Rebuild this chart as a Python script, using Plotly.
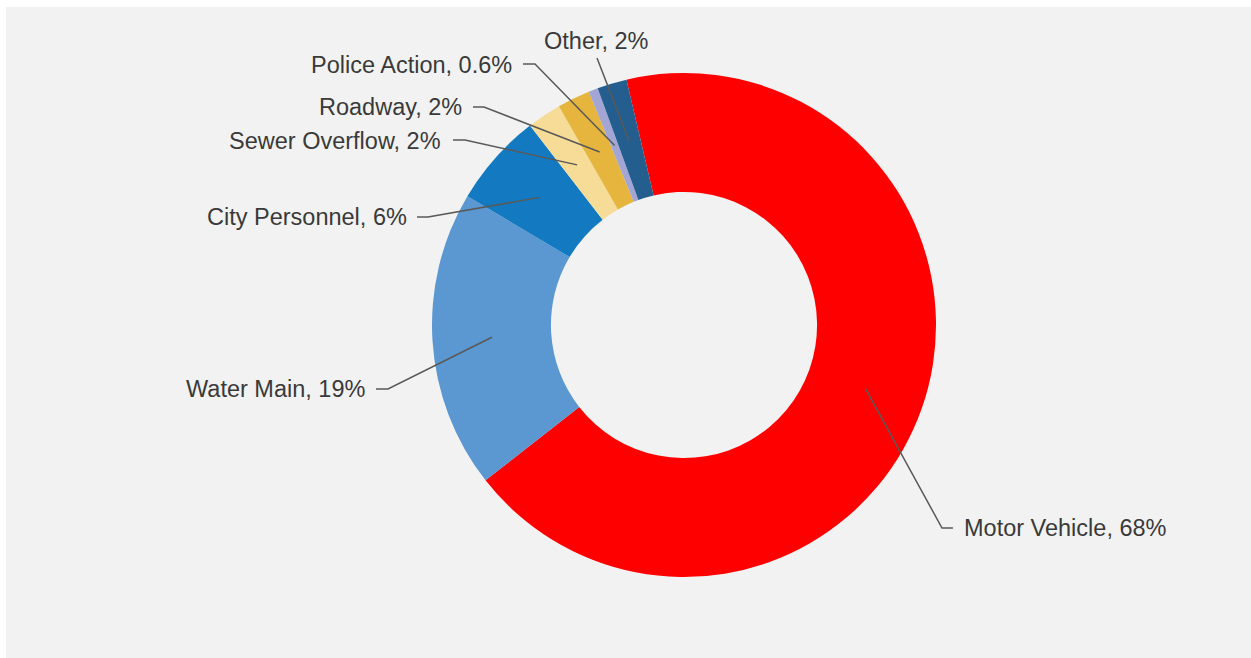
import math
import plotly.graph_objects as go

# ---- data ----
categories = ["Motor Vehicle", "Water Main", "City Personnel", "Sewer Overflow",
              "Roadway", "Police Action", "Other"]
values = [68.1, 19.1, 6.0, 2.2, 2.1, 0.6, 1.9]
pct_labels = ["68%", "19%", "6%", "2%", "2%", "0.6%", "2%"]
colors = ["#FF0000", "#5B97D1", "#137AC1", "#F7DC97", "#E5B53D", "#A3A6D4", "#245E8F"]

# ---- layout constants (pixels) ----
W, H = 1251, 658
CX, CY, R_OUT = 684, 325, 252
HOLE = 0.528
ROTATION = -13.2
R_MID = R_OUT * (1 + HOLE) / 2

# label placement: (elbow x, elbow y, horizontal end x, text x, text y, anchor)
label_layout = [
    (942, 528, 953, 962, 528, "left"),
    (388, 389, 376, 367, 389, "right"),
    (428, 217, 417, 409, 217, "right"),
    (465, 140, 453, 443, 141, "right"),
    (484, 107, 473, 464, 107, "right"),
    (535, 64, 523, 514, 65, "right"),
    (597, 58, None, 596, 41, "center"),
]

FONT = dict(family="Arial, Liberation Sans, sans-serif", size=23.5, color="#3A3A3A")
LINE_COLOR = "#595959"


def px(x):
    return x / W


def py(y):
    return 1 - y / H


fig = go.Figure()
fig.add_trace(go.Pie(
    labels=categories,
    values=values,
    hole=HOLE,
    sort=False,
    direction="clockwise",
    rotation=ROTATION,
    marker=dict(colors=colors, line=dict(width=0)),
    textinfo="none",
    hoverinfo="label+percent",
    showlegend=False,
    domain=dict(x=[px(CX - R_OUT), px(CX + R_OUT)],
                y=[py(CY + R_OUT), py(CY - R_OUT)]),
))

shapes = [dict(type="rect", xref="paper", yref="paper",
               x0=px(6), x1=1, y0=0, y1=py(7),
               fillcolor="#F2F2F2", line=dict(width=0), layer="below")]
annotations = []

total = sum(values)
cum = 0.0
for cat, v, lab, lay in zip(categories, values, pct_labels, label_layout):
    mid = ROTATION + 360 * (cum + v / 2) / total
    cum += v
    a = math.radians(mid)
    sx = CX + R_MID * math.sin(a)
    sy = CY - R_MID * math.cos(a)
    ex, ey, hx, tx, ty, anchor = lay
    path = f"M {px(sx)} {py(sy)} L {px(ex)} {py(ey)}"
    if hx is not None:
        path += f" L {px(hx)} {py(ey)}"
    shapes.append(dict(type="path", xref="paper", yref="paper", path=path,
                       line=dict(color=LINE_COLOR, width=1.5), layer="above"))
    annotations.append(dict(xref="paper", yref="paper", x=px(tx), y=py(ty),
                            xanchor=anchor, yanchor="middle", showarrow=False,
                            text=f"{cat}, {lab}", font=FONT))

fig.update_layout(
    width=W, height=H,
    margin=dict(l=0, r=0, t=0, b=0),
    paper_bgcolor="#FFFFFF",
    plot_bgcolor="#FFFFFF",
    shapes=shapes,
    annotations=annotations,
)

fig.write_html("out.html", config={"displayModeBar": False},
               post_script="document.body.style.margin='0';")
